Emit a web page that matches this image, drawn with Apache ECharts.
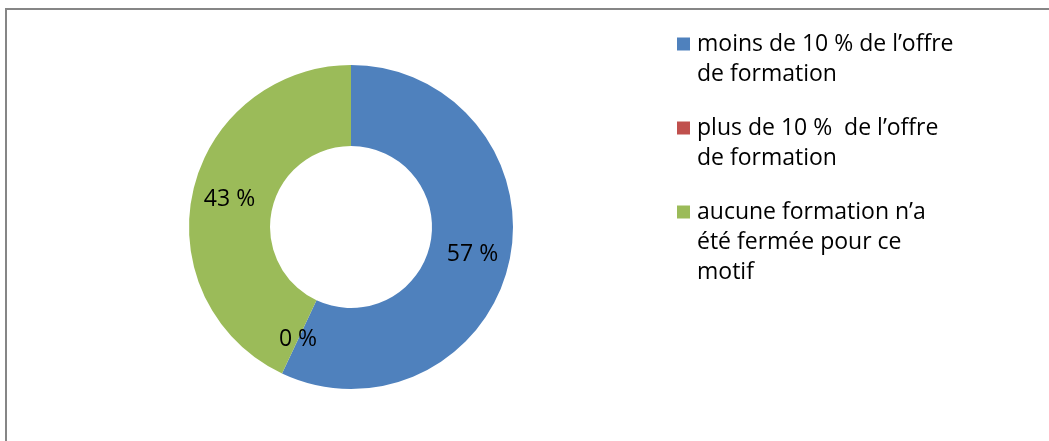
<!DOCTYPE html>
<html>
<head>
<meta charset="utf-8">
<script src="https://cdn.jsdelivr.net/npm/echarts@6/dist/echarts.min.js"></script>
<style>
html,body{margin:0;padding:0;background:#fff;}
#chart{width:1049px;height:441px;}
</style>
</head>
<body>
<div id="chart"></div>
<script>
const categories = [
  'moins de 10 % de l’offre\nde formation',
  'plus de 10 %  de l’offre\nde formation',
  'aucune formation n’a\nété fermée pour ce\nmotif'
];
const values = [57, 0, 43];
const colors = ['#4F81BD', '#C0504D', '#9BBB59'];

const FONT = 'Open Sans';
const LINE_H = 30;

const rich = {
  g: {width: 7, height: 13},
  ind: {width: 20, height: 13},
  t: {fontFamily: FONT, fontSize: 23, color: '#000', lineHeight: LINE_H}
};
colors.forEach(function (c, i) {
  rich['sq' + i] = {width: 13, height: 13, backgroundColor: c, lineHeight: LINE_H};
});

const chart = echarts.init(document.getElementById('chart'), null, {renderer: 'canvas'});
chart.setOption({
  animation: false,
  backgroundColor: '#ffffff',
  color: colors,
  graphic: [{
    type: 'rect',
    shape: {x: 6, y: 9, width: 1200, height: 600},
    style: {fill: 'none', stroke: '#868686', lineWidth: 2},
    silent: true,
    z: -1
  }],
  legend: {
    orient: 'vertical',
    left: 671,
    top: 29,
    padding: 0,
    itemGap: 24,
    itemWidth: 1,
    itemHeight: 1,
    icon: 'rect',
    itemStyle: {opacity: 0},
    selectedMode: false,
    formatter: function (name) {
      const i = categories.indexOf(name);
      const lines = name.split('\n');
      return lines.map(function (l, k) {
        return (k === 0 ? '{sq' + i + '|}{g|}' : '{ind|}') + '{t|' + l + '}';
      }).join('\n');
    },
    textStyle: {
      fontFamily: FONT,
      fontSize: 23,
      color: '#000',
      lineHeight: LINE_H,
      rich: rich
    },
    data: categories
  },
  series: [{
    type: 'pie',
    center: [351, 227],
    radius: [81, 162],
    startAngle: 90,
    clockwise: true,
    avoidLabelOverlap: false,
    itemStyle: {borderWidth: 0},
    label: {
      show: true,
      position: 'inside',
      formatter: '{c} %',
      fontFamily: FONT,
      fontSize: 23,
      color: '#000'
    },
    labelLine: {show: false},
    emphasis: {disabled: true},
    data: categories.map(function (c, i) {
      return {name: c, value: values[i]};
    })
  }]
});
</script>
</body>
</html>
